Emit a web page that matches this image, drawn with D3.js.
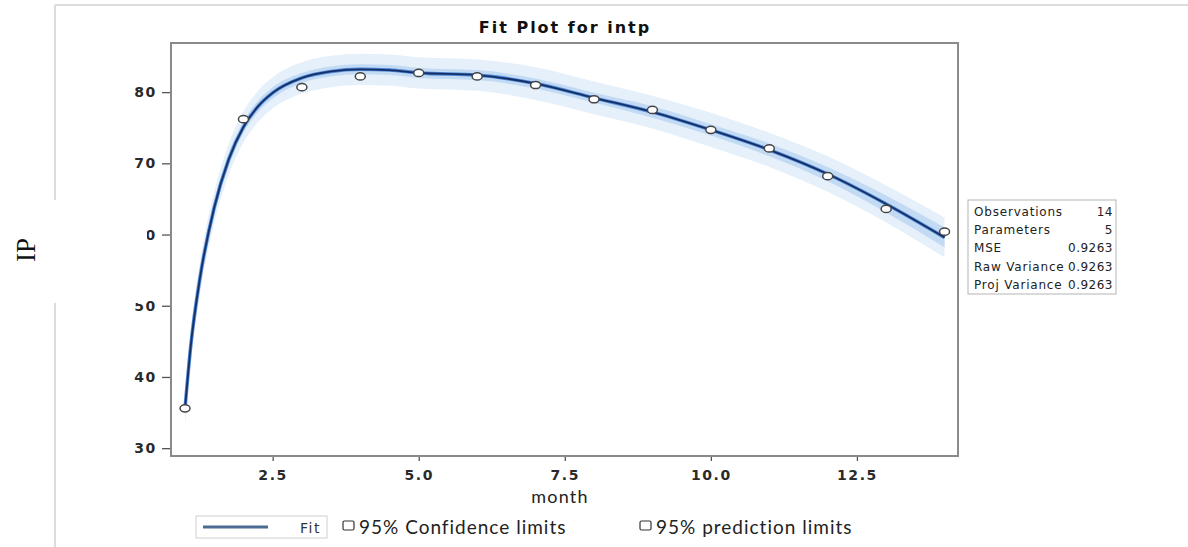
<!DOCTYPE html>
<html>
<head>
<meta charset="utf-8">
<script src="https://cdn.jsdelivr.net/npm/d3@7"></script>
<style>
  body { margin: 0; background: #fff; }
  svg { display: block; }
</style>
</head>
<body>
<div id="chart"></div>
<script>
// observed points
let months = [1, 2, 3, 4, 5, 6, 7, 8, 9, 10, 11, 12, 13, 14];
let ip_obs = [35.6, 76.2, 80.7, 82.2, 82.7, 82.2, 81.0, 79.0, 77.5, 74.7, 72.1, 68.2, 63.6, 60.4];

// fitted curve
let fit_month = [1, 1.1, 1.25, 1.5, 1.75, 2, 2.25, 2.5, 3, 3.5, 4, 4.5, 5, 6, 7, 8, 9, 10, 11, 12, 13, 14];
let fit_ip = [35.6, 44.5, 53.6, 63.8, 70.6, 75.1, 78.0, 79.9, 82.0, 82.9, 83.2, 83.1, 82.7, 82.4, 81.2, 79.2, 77.2, 74.7, 71.9, 68.5, 64.3, 59.6];
let conf_half = [1.2, 1.1, 1.0, 0.9, 0.9, 0.8, 0.8, 0.8, 0.7, 0.7, 0.7, 0.7, 0.7, 0.7, 0.7, 0.7, 0.8, 0.8, 0.9, 1.0, 1.2, 1.4];
let pred_half = [2.4, 2.3, 2.3, 2.2, 2.2, 2.2, 2.2, 2.2, 2.2, 2.2, 2.2, 2.2, 2.2, 2.2, 2.3, 2.3, 2.3, 2.4, 2.4, 2.5, 2.6, 2.8];

let x_ticks = [2.5, 5.0, 7.5, 10.0, 12.5];
let y_ticks = [30, 40, 50, 60, 70, 80];

let stat_names = ['Observations', 'Parameters', 'MSE', 'Raw Variance', 'Proj Variance'];
let stat_values = ['14', '5', '0.9263', '0.9263', '0.9263'];

let legend_labels = ['Fit', '95% Confidence limits', '95% prediction limits'];

let chart_width = 1188;
let chart_height = 547;
let plot = { left: 171, right: 958, top: 43, bottom: 456 };

let svg = d3
  .select('#chart')
  .append('svg')
  .attr('width', chart_width)
  .attr('height', chart_height);

// outer frame of the figure
svg.append('line')
  .attr('x1', 55).attr('x2', chart_width).attr('y1', 5).attr('y2', 5)
  .attr('stroke', '#dcdcdc').attr('stroke-width', 2);
svg.append('line')
  .attr('x1', 55).attr('x2', 55).attr('y1', 5).attr('y2', chart_height)
  .attr('stroke', '#dcdcdc').attr('stroke-width', 2);

let x_scale = d3.scaleLinear().domain([0.76, 14.23]).range([plot.left, plot.right]);
let y_scale = d3.scaleLinear().domain([28.9, 86.9]).range([plot.bottom, plot.top]);

let rows = fit_month.map((m, i) => ({
  m: m,
  fit: fit_ip[i],
  c: conf_half[i],
  p: pred_half[i]
}));

svg.append('clipPath')
  .attr('id', 'plot-clip')
  .append('rect')
  .attr('x', plot.left).attr('y', plot.top)
  .attr('width', plot.right - plot.left).attr('height', plot.bottom - plot.top);

let plot_g = svg.append('g').attr('clip-path', 'url(#plot-clip)');

// prediction band
plot_g.append('path')
  .datum(rows)
  .attr('fill', '#e6f0fa')
  .attr('d', d3.area()
    .x(d => x_scale(d.m))
    .y0(d => y_scale(d.fit - d.p))
    .y1(d => y_scale(d.fit + d.p))
    .curve(d3.curveMonotoneX));

// confidence band
plot_g.append('path')
  .datum(rows)
  .attr('fill', '#c2daf3')
  .attr('d', d3.area()
    .x(d => x_scale(d.m))
    .y0(d => y_scale(d.fit - d.c))
    .y1(d => y_scale(d.fit + d.c))
    .curve(d3.curveMonotoneX));

// fit line (blue halo + dark core)
let fit_line = d3.line()
  .x(d => x_scale(d.m))
  .y(d => y_scale(d.fit))
  .curve(d3.curveMonotoneX);

plot_g.append('path')
  .datum(rows)
  .attr('fill', 'none')
  .attr('stroke', '#4a86d4')
  .attr('stroke-width', 3.5)
  .attr('d', fit_line);
plot_g.append('path')
  .datum(rows)
  .attr('fill', 'none')
  .attr('stroke', '#172f66')
  .attr('stroke-width', 1.8)
  .attr('d', fit_line);

// observations
plot_g.selectAll('ellipse')
  .data(months)
  .enter()
  .append('ellipse')
  .attr('cx', (d, i) => x_scale(d))
  .attr('cy', (d, i) => y_scale(ip_obs[i]))
  .attr('rx', 5)
  .attr('ry', 3.6)
  .attr('fill', '#fff')
  .attr('stroke', '#444')
  .attr('stroke-width', 1.5);

// axes
let x_axis = d3.axisBottom(x_scale)
  .tickValues(x_ticks)
  .tickFormat(d3.format('.1f'))
  .tickSize(5)
  .tickSizeOuter(0);
let y_axis = d3.axisLeft(y_scale)
  .tickValues(y_ticks)
  .tickSize(9)
  .tickSizeOuter(0);

let gx = svg.append('g')
  .attr('class', 'x-axis')
  .attr('transform', 'translate(0,' + plot.bottom + ')')
  .call(x_axis);
let gy = svg.append('g')
  .attr('class', 'y-axis')
  .attr('transform', 'translate(' + plot.left + ',0)')
  .call(y_axis);

[gx, gy].forEach(g => {
  g.select('.domain').remove();
  g.selectAll('line').attr('stroke', '#555').attr('stroke-width', 1.3);
  g.selectAll('text')
    .attr('fill', '#2a2a2a')
    .attr('font-family', 'DejaVu Sans, sans-serif')
    .attr('font-size', 14)
    .attr('font-weight', 'bold')
    .attr('letter-spacing', 1.6);
});
gx.selectAll('text').attr('dy', '1.15em');
gy.selectAll('text').attr('dx', '-0.15em');

// plot frame
svg.append('rect')
  .attr('x', plot.left).attr('y', plot.top)
  .attr('width', plot.right - plot.left).attr('height', plot.bottom - plot.top)
  .attr('fill', 'none')
  .attr('stroke', '#8a8a8a')
  .attr('stroke-width', 2);

// title
svg.append('text')
  .attr('x', 565).attr('y', 33)
  .attr('text-anchor', 'middle')
  .attr('font-family', 'DejaVu Sans, sans-serif')
  .attr('font-weight', 'bold')
  .attr('font-size', 16)
  .attr('letter-spacing', 2)
  .attr('fill', '#111')
  .text('Fit Plot for intp');

// x label
svg.append('text')
  .attr('x', 560).attr('y', 503)
  .attr('text-anchor', 'middle')
  .attr('font-family', 'Lato, sans-serif')
  .attr('font-size', 18)
  .attr('letter-spacing', 1.2)
  .attr('fill', '#222')
  .text('month');

// white patch with the y label, covering part of the axis
svg.append('rect')
  .attr('x', 0).attr('y', 200)
  .attr('width', 147).attr('height', 103)
  .attr('fill', '#fff');
svg.append('text')
  .attr('transform', 'translate(35,250) rotate(-90)')
  .attr('text-anchor', 'middle')
  .attr('font-family', 'Liberation Serif, serif')
  .attr('font-size', 27)
  .attr('fill', '#111')
  .text('IP');

// stats table
let stats_g = svg.append('g');
stats_g.append('rect')
  .attr('x', 968).attr('y', 200)
  .attr('width', 148).attr('height', 94)
  .attr('fill', '#fff')
  .attr('stroke', '#b5b5b5')
  .attr('stroke-width', 1);
stat_names.forEach((name, i) => {
  stats_g.append('text')
    .attr('x', 974).attr('y', 216 + i * 18.2)
    .attr('font-family', 'DejaVu Sans, sans-serif')
    .attr('font-size', 12)
    .attr('letter-spacing', 0.8)
    .attr('fill', '#222')
    .text(name);
  stats_g.append('text')
    .attr('x', 1113).attr('y', 216 + i * 18.2)
    .attr('text-anchor', 'end')
    .attr('font-family', 'DejaVu Sans, sans-serif')
    .attr('font-size', 12)
    .attr('letter-spacing', 0.5)
    .attr('fill', '#222')
    .text(stat_values[i]);
});

// legend
let leg = svg.append('g');
leg.append('rect')
  .attr('x', 196).attr('y', 516)
  .attr('width', 131).attr('height', 22)
  .attr('fill', '#fff')
  .attr('stroke', '#cfcfcf');
leg.append('line')
  .attr('x1', 203).attr('x2', 268).attr('y1', 527).attr('y2', 527)
  .attr('stroke', '#4b6a94').attr('stroke-width', 3);
leg.append('text')
  .attr('x', 300).attr('y', 533)
  .attr('font-family', 'DejaVu Sans, sans-serif')
  .attr('font-size', 14)
  .attr('letter-spacing', 1.5)
  .attr('fill', '#333')
  .text(legend_labels[0]);

let leg_items = [
  { x: 343, label: legend_labels[1] },
  { x: 640, label: legend_labels[2] }
];
leg_items.forEach(d => {
  leg.append('rect')
    .attr('x', d.x).attr('y', 521)
    .attr('width', 11).attr('height', 9)
    .attr('rx', 1.5)
    .attr('fill', '#fff')
    .attr('stroke', '#333')
    .attr('stroke-width', 1.2);
  leg.append('text')
    .attr('x', d.x + 16).attr('y', 534)
    .attr('font-family', 'Lato, sans-serif')
    .attr('font-size', 19)
    .attr('letter-spacing', 1)
    .attr('fill', '#222')
    .text(d.label);
});
</script>
</body>
</html>
